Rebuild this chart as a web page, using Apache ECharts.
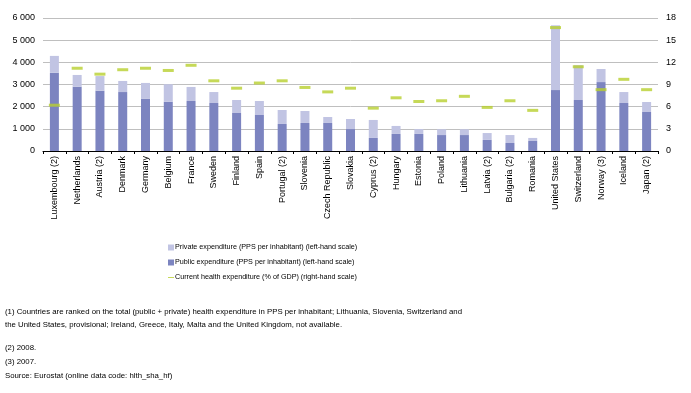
<!DOCTYPE html>
<html>
<head>
<meta charset="utf-8">
<script src="https://cdn.jsdelivr.net/npm/echarts@6/dist/echarts.min.js"></script>
<style>
  html, body { margin: 0; padding: 0; background: #fff; }
  #container { width: 691px; height: 393px; }
</style>
</head>
<body>
<div id="container"></div>
<script>
var countries = ['Luxembourg (2)', 'Netherlands', 'Austria (2)', 'Denmark', 'Germany', 'Belgium', 'France', 'Sweden',
  'Finland', 'Spain', 'Portugal (2)', 'Slovenia', 'Czech Republic', 'Slovakia', 'Cyprus (2)', 'Hungary', 'Estonia',
  'Poland', 'Lithuania', 'Latvia (2)', 'Bulgaria (2)', 'Romania', 'United States', 'Switzerland', 'Norway (3)',
  'Iceland', 'Japan (2)'];
// totals, private = total - public
var totalPPS = [4290, 3430, 3380, 3160, 3070, 3010, 2890, 2660, 2300, 2255, 1850, 1805, 1535, 1445, 1400, 1130, 990,
  980, 980, 810, 720, 590, 5670, 3870, 3700, 2660, 2210];
var publicPPS = [3530, 2900, 2720, 2660, 2350, 2220, 2255, 2165, 1715, 1625, 1220, 1265, 1265, 990, 590, 770, 770,
  720, 720, 500, 360, 450, 2750, 2300, 3110, 2165, 1760];
var gdpShare = [6.2, 11.2, 10.4, 11.0, 11.2, 10.9, 11.6, 9.5, 8.5, 9.2, 9.5, 8.6, 8.0, 8.5, 5.8, 7.2, 6.7,
  6.8, 7.4, 5.9, 6.8, 5.5, 16.7, 11.4, 8.3, 9.7, 8.3];
var leftTicks = [0, 1000, 2000, 3000, 4000, 5000, 6000];
var rightTicks = [0, 3, 6, 9, 12, 15, 18];

var privatePPS = totalPPS.map(function (t, i) { return t - publicPPS[i]; });

var dom = document.getElementById('container');
var myChart = echarts.init(dom);
var font = 'Liberation Sans, Arial, sans-serif';

var option = {
  animation: false,
  textStyle: { fontFamily: font },
  grid: { left: 43, right: 33, top: 18, bottom: 242 },
  legend: [
    {
      orient: 'vertical', left: 163, top: 239, itemWidth: 6, itemHeight: 6, itemGap: 8,
      icon: 'rect',
      textStyle: { fontFamily: font, fontSize: 7.2, color: '#000', padding: [0, 0, 0, -4] },
      data: ['Private expenditure (PPS per inhabitant) (left-hand scale)',
             'Public expenditure (PPS per inhabitant) (left-hand scale)']
    },
    {
      orient: 'vertical', left: 163, top: 269, itemWidth: 6, itemHeight: 1,
      icon: 'rect',
      textStyle: { fontFamily: font, fontSize: 7.2, color: '#000', padding: [0, 0, 0, -4] },
      data: ['Current health expenditure (% of GDP) (right-hand scale)']
    }
  ],
  xAxis: {
    type: 'category',
    data: countries,
    axisLine: { lineStyle: { color: '#000', width: 1 } },
    axisTick: { show: true, length: 3, lineStyle: { color: '#000' } },
    axisLabel: { rotate: 90, interval: 0, fontSize: 9, color: '#000', margin: 5, fontFamily: font }
  },
  yAxis: [
    {
      type: 'value', min: 0, max: 6000, interval: 1000,
      axisLine: { show: false }, axisTick: { show: false },
      axisLabel: {
        fontSize: 9, color: '#000', margin: 8,
        formatter: function (v) { return leftTicks.indexOf(v) >= 0 ? String(v).replace(/\B(?=(\d{3})+$)/, ' ') : ''; }
      },
      splitLine: { lineStyle: { color: '#bfbfbf', width: 1 } }
    },
    {
      type: 'value', min: 0, max: 18, interval: 3,
      axisLine: { show: false }, axisTick: { show: false },
      axisLabel: {
        fontSize: 9, color: '#000', margin: 8,
        formatter: function (v) { return rightTicks.indexOf(v) >= 0 ? String(v) : ''; }
      },
      splitLine: { show: false }
    }
  ],
  series: [
    {
      name: 'Public expenditure (PPS per inhabitant) (left-hand scale)',
      type: 'bar', stack: 'pps', barWidth: 9,
      itemStyle: { color: '#7c84c0' },
      data: publicPPS
    },
    {
      name: 'Private expenditure (PPS per inhabitant) (left-hand scale)',
      type: 'bar', stack: 'pps', barWidth: 9,
      itemStyle: { color: '#c1c4e3' },
      data: privatePPS
    },
    {
      name: 'Current health expenditure (% of GDP) (right-hand scale)',
      type: 'scatter', yAxisIndex: 1,
      symbol: 'rect', symbolSize: [11, 3],
      itemStyle: { color: '#b8d02e' },
      z: 5,
      data: gdpShare
    }
  ],
  graphic: [
    {
      type: 'text', left: 5, top: 305,
      style: {
        text: '(1) Countries are ranked on the total (public + private) health expenditure in PPS per inhabitant; Lithuania, Slovenia, Switzerland and\nthe United States, provisional; Ireland, Greece, Italy, Malta and the United Kingdom, not available.',
        font: '7.8px ' + font, fill: '#000', lineHeight: 13.5
      }
    },
    {
      type: 'text', left: 5, top: 341,
      style: {
        text: '(2) 2008.\n(3) 2007.\nSource: Eurostat (online data code: hlth_sha_hf)',
        font: '7.8px ' + font, fill: '#000', lineHeight: 14
      }
    }
  ]
};

if (option && typeof option === 'object') {
  myChart.setOption(option, true);
}
</script>
</body>
</html>
